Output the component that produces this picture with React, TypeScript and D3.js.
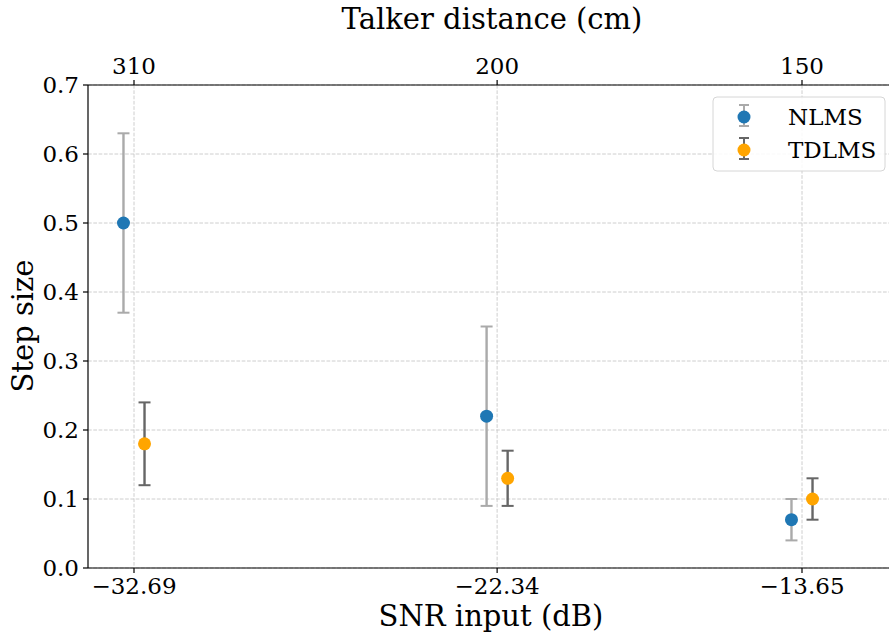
import React from "react";
import * as d3 from "d3";

const snrTicks = [-32.69, -22.34, -13.65];
const distanceLabels = ["310", "200", "150"];
const yTicks = [0, 0.1, 0.2, 0.3, 0.4, 0.5, 0.6, 0.7];
const nlmsMean = [0.5, 0.22, 0.07];
const nlmsErr = [0.13, 0.13, 0.03];
const tdlmsMean = [0.18, 0.13, 0.1];
const tdlmsErr = [0.06, 0.04, 0.03];
const seriesNames = ["NLMS", "TDLMS"];
const offset = 0.3;

const W = 889, H = 637;
const M = { left: 88, top: 85, right: 895, bottom: 568 };
const font = "'DejaVu Serif', serif";

export default function App() {
  const x = d3.scaleLinear().domain([-32.69, -13.65]).range([134, 802]);
  const y = d3.scaleLinear().domain([0, 0.7]).range([M.bottom, M.top]);
  const series = [
    { name: seriesNames[0], mean: nlmsMean, err: nlmsErr, color: "#1f77b4", ecolor: "#aaaaaa", dx: -offset },
    { name: seriesNames[1], mean: tdlmsMean, err: tdlmsErr, color: "#ffa500", ecolor: "#666666", dx: offset },
  ];
  const cap = 6;
  return (
    <svg width={W} height={H} style={{ position: "absolute", left: 0, top: 0, background: "#fff" }}>
      <defs>
        <clipPath id="plot"><rect x={M.left} y={M.top} width={M.right - M.left} height={M.bottom - M.top} /></clipPath>
      </defs>
      <g stroke="#c8c8c8" strokeWidth={0.9} strokeDasharray="3.7,1.6">
        {yTicks.map((t) => (
          <line key={"gy" + t} x1={M.left} x2={M.right} y1={y(t)} y2={y(t)} />
        ))}
        {snrTicks.map((t) => (
          <line key={"gx" + t} x1={x(t)} x2={x(t)} y1={M.top} y2={M.bottom} />
        ))}
      </g>
      <g clipPath="url(#plot)">
        {series.map((s) =>
          s.mean.map((m, i) => {
            const cx = x(snrTicks[i] + s.dx);
            const lo = y(m - s.err[i]);
            const hi = y(m + s.err[i]);
            return (
              <g key={s.name + i}>
                <line x1={cx} x2={cx} y1={lo} y2={hi} stroke={s.ecolor} strokeWidth={2.4} />
                <line x1={cx - cap} x2={cx + cap} y1={lo} y2={lo} stroke={s.ecolor} strokeWidth={2} />
                <line x1={cx - cap} x2={cx + cap} y1={hi} y2={hi} stroke={s.ecolor} strokeWidth={2} />
                <circle cx={cx} cy={y(m)} r={6.5} fill={s.color} />
              </g>
            );
          })
        )}
      </g>
      <g stroke="#000" strokeWidth={1.2} fill="none">
        <line x1={M.left} x2={M.left} y1={M.top} y2={M.bottom} />
        <line x1={M.left} x2={M.right} y1={M.bottom} y2={M.bottom} />
        <line x1={M.left} x2={M.right} y1={M.top} y2={M.top} />
      </g>
      <g fontFamily={font} fontSize={23} fill="#000">
        {yTicks.map((t) => (
          <g key={"yt" + t}>
            <line x1={M.left - 5} x2={M.left} y1={y(t)} y2={y(t)} stroke="#000" strokeWidth={1.2} />
            <text x={M.left - 9} y={y(t)} textAnchor="end" dominantBaseline="central">{t.toFixed(1)}</text>
          </g>
        ))}
        {snrTicks.map((t) => (
          <g key={"xt" + t}>
            <line x1={x(t)} x2={x(t)} y1={M.bottom} y2={M.bottom + 5} stroke="#000" strokeWidth={1.2} />
            <text x={x(t)} y={M.bottom + 26} textAnchor="middle">{"\u2212" + Math.abs(t).toFixed(2)}</text>
          </g>
        ))}
        {snrTicks.map((t, i) => (
          <g key={"tt" + t}>
            <line x1={x(t)} x2={x(t)} y1={M.top} y2={M.top - 5} stroke="#000" strokeWidth={1.2} />
            <text x={x(t)} y={M.top - 11} textAnchor="middle">{distanceLabels[i]}</text>
          </g>
        ))}
      </g>
      <g fontFamily={font} fontSize={29} fill="#000">
        <text x={491} y={626} textAnchor="middle">SNR input (dB)</text>
        <text x={492} y={29} textAnchor="middle">Talker distance (cm)</text>
        <text transform={`translate(33,326) rotate(-90)`} textAnchor="middle">Step size</text>
      </g>
      <g>
        <rect x={713} y={97} width={172} height={74} rx={4} fill="#fff" fillOpacity={0.85} stroke="#d6d6d6" strokeWidth={1} />
        {series.map((s, i) => {
          const ly = 117 + i * 33;
          const lx = 744;
          return (
            <g key={"lg" + s.name}>
              <line x1={lx} x2={lx} y1={ly - 12} y2={ly + 9} stroke={s.ecolor} strokeWidth={2} />
              <line x1={lx - 5} x2={lx + 5} y1={ly - 12} y2={ly - 12} stroke={s.ecolor} strokeWidth={2} />
              <line x1={lx - 5} x2={lx + 5} y1={ly + 9} y2={ly + 9} stroke={s.ecolor} strokeWidth={2} />
              <circle cx={lx} cy={ly} r={6.5} fill={s.color} />
              <text x={788} y={ly} dominantBaseline="central" fontFamily={font} fontSize={23}>{s.name}</text>
            </g>
          );
        })}
      </g>
    </svg>
  );
}
